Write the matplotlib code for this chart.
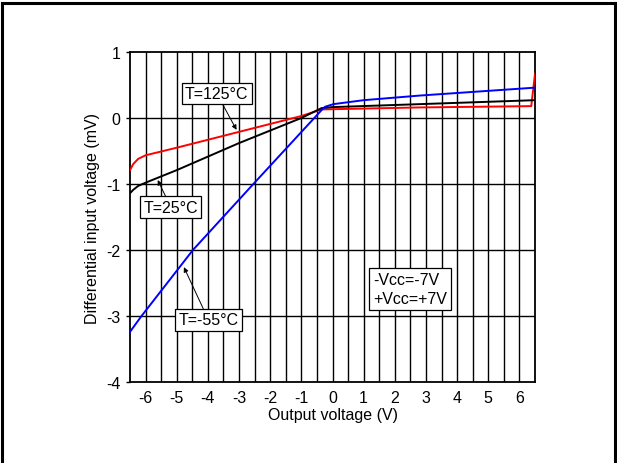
import matplotlib
matplotlib.use('Agg')
import matplotlib.pyplot as plt
from matplotlib.lines import Line2D
import numpy as np

plt.rcParams['font.family'] = ['Liberation Sans', 'DejaVu Sans']
plt.rcParams['axes.unicode_minus'] = False

# output voltage (V) vs differential input voltage (mV), one curve per temperature
vout_125 = [-6.5, -6.4, -6.24, -6.0, -5.0, -3.0, -1.0, -0.35, 2.8, 6.38, 6.5]
vin_125 = [-0.79, -0.70, -0.62, -0.565, -0.45, -0.21, 0.03, 0.13, 0.16, 0.18, 0.67]

vout_25 = [-6.5, -6.4, -6.24, -6.0, -5.0, -3.0, -1.0, -0.35, 0.0, 2.8, 6.5]
vin_25 = [-1.14, -1.09, -1.03, -0.98, -0.79, -0.38, 0.0, 0.15, 0.165, 0.21, 0.27]

vout_m55 = [-6.5, -6.13, -4.48, -2.54, -0.35, -0.24, 0.03, 1.0, 2.8, 6.5]
vin_m55 = [-3.24, -3.0, -2.0, -1.0, 0.12, 0.17, 0.21, 0.27, 0.34, 0.46]

x_ticks = [-6, -5, -4, -3, -2, -1, 0, 1, 2, 3, 4, 5, 6]
y_ticks = [-4, -3, -2, -1, 0, 1]

fs = 11.5

fig = plt.figure(figsize=(6.17, 4.64), dpi=100)
ax = fig.add_axes([130 / 617, 1 - 383 / 464, 405 / 617, 330 / 464])

# grid: vertical every 0.5 V, horizontal every 1 mV
for gx in np.arange(-6.0, 6.01, 0.5):
    ax.axvline(gx, color='black', lw=1.0, zorder=1)
for gy in y_ticks[1:-1]:
    ax.axhline(gy, color='black', lw=1.0, zorder=1)

ax.plot(vout_125, vin_125, color='#ff0000', lw=1.4, zorder=3)
ax.plot(vout_25, vin_25, color='black', lw=1.4, zorder=3)
ax.plot(vout_m55, vin_m55, color='#0000ff', lw=1.4, zorder=3)

ax.set_xlim(-6.5, 6.5)
ax.set_ylim(-4, 1)
ax.set_xticks(x_ticks)
ax.set_yticks(y_ticks)
ax.tick_params(axis='x', length=0, pad=6, labelsize=fs)
ax.tick_params(axis='y', length=3, width=1, direction='out', pad=4, labelsize=fs)
for s in ax.spines.values():
    s.set_linewidth(1.3)

ax.set_xlabel('Output voltage (V)', fontsize=fs, labelpad=1)
ax.set_ylabel('Differential input voltage (mV)', fontsize=fs, labelpad=4)

box = dict(boxstyle='square,pad=0.2', fc='white', ec='black', lw=0.9)
arrow = dict(arrowstyle='-|>', color='black', lw=0.7, mutation_scale=7, shrinkA=0, shrinkB=0)

ax.annotate('T=125°C', xy=(-3.08, -0.18), xytext=(-3.72, 0.375), fontsize=fs,
            ha='center', va='center', bbox=box, arrowprops=arrow, zorder=5)
ax.annotate('T=25°C', xy=(-5.61, -0.94), xytext=(-5.19, -1.35), fontsize=fs,
            ha='center', va='center', bbox=box, arrowprops=arrow, zorder=5)
ax.annotate('T=-55°C', xy=(-4.77, -2.26), xytext=(-3.98, -3.06), fontsize=fs,
            ha='center', va='center', bbox=box, arrowprops=arrow, zorder=5)

ax.text(1.3, -2.59, '-Vcc=-7V\n+Vcc=+7V', fontsize=fs, ha='left', va='center',
        linespacing=1.35, bbox=dict(boxstyle='square,pad=0.25', fc='white', ec='black', lw=0.9),
        zorder=5)

# frame around the whole figure (bottom edge falls outside)
W, H = 617, 464
fig.add_artist(Line2D([1.5 / W, 1.5 / W], [0, 1 - 4 / H], transform=fig.transFigure, color='black', lw=2.2))
fig.add_artist(Line2D([1.5 / W, 615 / W], [1 - 4 / H, 1 - 4 / H], transform=fig.transFigure, color='black', lw=2.2))
fig.add_artist(Line2D([615 / W, 615 / W], [0, 1 - 4 / H], transform=fig.transFigure, color='black', lw=2.2))

fig.savefig('out.png', dpi=100)
